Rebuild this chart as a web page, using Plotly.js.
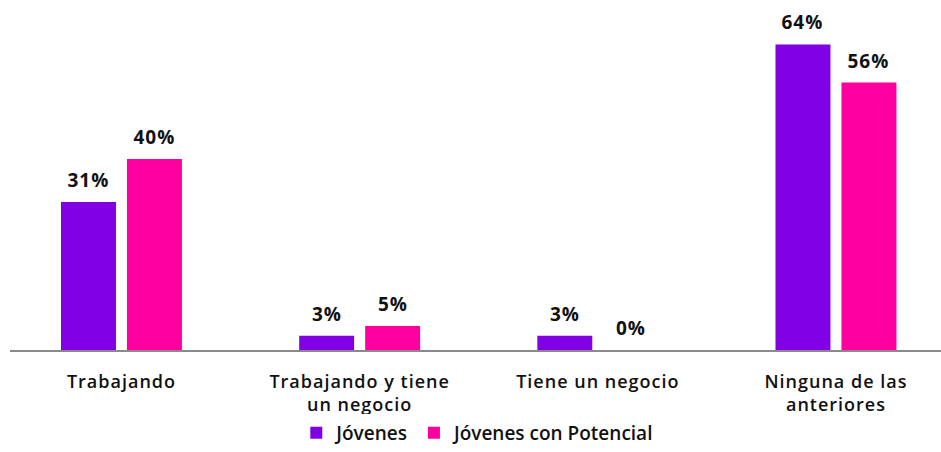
<!DOCTYPE html>
<html>
<head>
<meta charset="utf-8">
<script src="https://cdn.plot.ly/plotly-3.0.1.min.js"></script>
<style>
html,body{margin:0;padding:0;background:#fff;}
#chart{width:941px;height:452px;}
#chart .xtick text, #chart .annotation-text{letter-spacing:1px;}
</style>
</head>
<body>
<div id="chart"></div>
<script>
const categories = ["Trabajando", "Trabajando y tiene<br>un negocio", "Tiene un negocio", "Ninguna de las<br>anteriores"];
const seriesNames = ["Jóvenes", "Jóvenes con Potencial"];
const jovenes = [0.31, 0.03, 0.03, 0.64];
const jovenesPotencial = [0.40, 0.05, 0.00, 0.56];
const colors = ["#8200E4", "#FF00A0"];

const FONT = "'Open Sans', Lato, sans-serif";
const fmt = v => Math.round(v * 100) + "%";
const series = [jovenes, jovenesPotencial];

const traces = series.map((vals, i) => ({
  type: "bar",
  name: seriesNames[i],
  x: categories,
  y: vals,
  marker: {color: colors[i]},
  hoverinfo: "skip"
}));

const annotations = [];
series.forEach((vals, i) => {
  vals.forEach((v, j) => {
    annotations.push({
      x: categories[j], y: v, xref: "x", yref: "y",
      text: fmt(v), showarrow: false,
      xanchor: "center", yanchor: "bottom",
      xshift: (i === 0 ? -33 : 33), yshift: 7,
      font: {family: FONT, size: 19, color: "#111", weight: 700}
    });
  });
});

const layout = {
  width: 941, height: 452,
  margin: {l: 10, r: 0, t: 10, b: 102, autoexpand: false},
  paper_bgcolor: "#fff", plot_bgcolor: "#fff",
  barmode: "group",
  bargap: 0.446,
  bargroupgap: 0.167,
  showlegend: true,
  annotations: annotations,
  legend: {orientation: "h", x: 0.503, xanchor: "center", y: -0.3, yanchor: "bottom",
           font: {family: FONT, size: 19, color: "#111", weight: 600}, traceorder: "normal"},
  xaxis: {
    type: "category",
    range: [-0.468, 3.441],
    showline: true, linecolor: "#8a8a8a", linewidth: 2,
    ticks: "outside", ticklen: 14, tickcolor: "rgba(0,0,0,0)",
    tickfont: {family: FONT, size: 18, color: "#111", weight: 600},
    showgrid: false, zeroline: false, fixedrange: true
  },
  yaxis: {
    range: [0, 0.712],
    visible: false, showgrid: false, zeroline: false, fixedrange: true
  }
};

Plotly.newPlot("chart", traces, layout, {displayModeBar: false, staticPlot: true});
</script>
</body>
</html>
